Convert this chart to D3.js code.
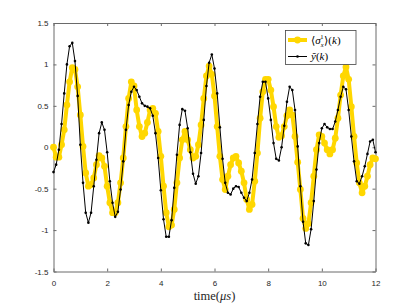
<!DOCTYPE html>
<html>
<head>
<meta charset="utf-8">
<script src="https://cdn.jsdelivr.net/npm/d3@7"></script>
<style>
  body { margin: 0; background: #fff; }
  text { font-family: "Liberation Sans", Arial, sans-serif; }
</style>
</head>
<body>
<script>
// sampling step of both series (microseconds)
var timeStep = 0.1;

// <sigma_x^1>(k), yellow thick line
var sigmaX = [
  0.00, -0.12, -0.12, 0.03, 0.21, 0.51, 0.79, 0.96, 0.94, 0.73,
  0.39, 0.01, -0.31, -0.47, -0.45, -0.37, -0.21, -0.10, -0.13, -0.23,
  -0.47, -0.67, -0.79, -0.79, -0.67, -0.43, -0.13, 0.25, 0.59, 0.79,
  0.74, 0.45, 0.25, 0.13, 0.17, 0.30, 0.45, 0.47, 0.41, 0.19,
  -0.11, -0.47, -0.79, -0.96, -0.94, -0.75, -0.43, -0.13, 0.09, 0.19,
  0.09, -0.03, -0.13, -0.11, 0.03, 0.27, 0.59, 0.86, 0.98, 0.88,
  0.62, 0.25, -0.11, -0.39, -0.51, -0.35, -0.21, -0.13, -0.11, -0.19,
  -0.29, -0.43, -0.63, -0.75, -0.69, -0.41, -0.07, 0.35, 0.67, 0.82,
  0.82, 0.69, 0.49, 0.25, 0.12, 0.14, 0.25, 0.38, 0.45, 0.39,
  0.13, -0.18, -0.51, -0.86, -0.98, -0.92, -0.67, -0.35, -0.03, 0.15,
  0.13, 0.05, -0.03, -0.08, -0.03, 0.11, 0.35, 0.63, 0.86, 0.97,
  0.82, 0.49, 0.13, -0.19, -0.43, -0.55, -0.47, -0.35, -0.21, -0.13,
  -0.14
];

// y~(k), black thin line
var yTilde = [
  -0.30, -0.21, -0.03, 0.28, 0.65, 1.00, 1.22, 1.26, 1.04, 0.62,
  0.03, -0.43, -0.79, -0.91, -0.79, -0.47, -0.15, 0.17, 0.30, 0.21,
  -0.06, -0.41, -0.67, -0.84, -0.78, -0.51, -0.17, 0.21, 0.51, 0.67,
  0.73, 0.69, 0.61, 0.53, 0.50, 0.49, 0.47, 0.38, 0.17, -0.13,
  -0.52, -0.87, -1.08, -1.08, -0.88, -0.49, -0.09, 0.27, 0.46, 0.44,
  0.23, -0.06, -0.32, -0.44, -0.35, -0.07, 0.33, 0.74, 1.02, 1.12,
  0.95, 0.65, 0.24, -0.14, -0.43, -0.55, -0.57, -0.50, -0.47, -0.48,
  -0.55, -0.61, -0.65, -0.55, -0.39, -0.07, 0.28, 0.61, 0.79, 0.79,
  0.59, 0.33, 0.05, -0.14, -0.16, 0.00, 0.26, 0.55, 0.73, 0.69,
  0.45, 0.01, -0.47, -0.90, -1.16, -1.18, -0.99, -0.65, -0.27, 0.05,
  0.23, 0.28, 0.24, 0.22, 0.22, 0.31, 0.45, 0.61, 0.73, 0.70,
  0.45, 0.13, -0.17, -0.41, -0.44, -0.35, -0.23, -0.08, 0.07, 0.09,
  -0.06
];

var xTicks = [0, 2, 4, 6, 8, 10, 12];
var yTicks = [-1.5, -1, -0.5, 0, 0.5, 1, 1.5];
var yTickLabels = ["-1.5", "-1", "-0.5", "0", "0.5", "1", "1.5"];

function drawChart(){

  var wx = 415,
      hy = 306;

  var left = 53.5, right = 375.5, top = 23, bottom = 271.5;

  var svg = d3.select("body")
      .append("svg")
      .attr("width", wx)
      .attr("height", hy);

  var x = d3.scaleLinear().domain([0, 12]).range([left, right]);
  var y = d3.scaleLinear().domain([-1.5, 1.5]).range([bottom, top]);

  var axisColor = "#6a6a6a";

  // plot area background
  svg.append("rect")
      .attr("x", left).attr("y", top)
      .attr("width", right - left).attr("height", bottom - top)
      .attr("fill", "#fff");

  // bottom axis with labels
  var gx = svg.append("g")
      .attr("transform", "translate(0," + bottom + ")")
      .call(d3.axisBottom(x).tickValues(xTicks).tickSizeInner(-3).tickSizeOuter(0).tickPadding(8.5)
        .tickFormat(d3.format("d")));

  // top axis, ticks only
  var gxt = svg.append("g")
      .attr("transform", "translate(0," + top + ")")
      .call(d3.axisTop(x).tickValues(xTicks).tickSizeInner(-3).tickSizeOuter(0).tickFormat(""));

  // left axis with labels
  var gy = svg.append("g")
      .attr("transform", "translate(" + left + ",0)")
      .call(d3.axisLeft(y).tickValues(yTicks).tickSizeInner(-3).tickSizeOuter(0).tickPadding(5)
        .tickFormat(function(d, i){ return yTickLabels[i]; }));

  // right axis, ticks only
  var gyr = svg.append("g")
      .attr("transform", "translate(" + right + ",0)")
      .call(d3.axisRight(y).tickValues(yTicks).tickSizeInner(-3).tickSizeOuter(0).tickFormat(""));

  [gx, gxt, gy, gyr].forEach(function(g){
    g.select(".domain").attr("stroke", axisColor).attr("stroke-width", 1);
    g.selectAll(".tick line").attr("stroke", axisColor).attr("stroke-width", 1);
    g.selectAll(".tick text")
      .attr("fill", "#262626")
      .style("font-size", "8px")
      .style("font-family", "'Liberation Sans', Arial, sans-serif");
  });

  var times = sigmaX.map(function(d, i){ return i * timeStep; });

  var line = d3.line()
      .x(function(d){ return x(d[0]); })
      .y(function(d){ return y(d[1]); });

  var yellow = "#FFD700";

  // yellow series
  var sData = times.map(function(t, i){ return [t, sigmaX[i]]; });
  svg.append("path")
      .datum(sData)
      .attr("d", line)
      .attr("fill", "none")
      .attr("stroke", yellow)
      .attr("stroke-width", 4)
      .attr("stroke-linejoin", "round");

  svg.append("g").selectAll("circle")
      .data(sData)
      .enter().append("circle")
      .attr("cx", function(d){ return x(d[0]); })
      .attr("cy", function(d){ return y(d[1]); })
      .attr("r", 3.4)
      .attr("fill", yellow);

  // black series
  var bData = times.map(function(t, i){ return [t, yTilde[i]]; });
  svg.append("path")
      .datum(bData)
      .attr("d", line)
      .attr("fill", "none")
      .attr("stroke", "#000")
      .attr("stroke-width", 1);

  svg.append("g").selectAll("circle")
      .data(bData)
      .enter().append("circle")
      .attr("cx", function(d){ return x(d[0]); })
      .attr("cy", function(d){ return y(d[1]); })
      .attr("r", 1.3)
      .attr("fill", "#000");

  // x label
  var xl = svg.append("text")
      .attr("x", (left + right) / 2)
      .attr("y", 300)
      .attr("text-anchor", "middle")
      .style("font-family", "'Liberation Serif', 'DejaVu Serif', serif")
      .style("font-size", "12.5px")
      .attr("fill", "#262626");
  xl.append("tspan").text("time(");
  xl.append("tspan").style("font-style", "italic").text("μs");
  xl.append("tspan").text(")");

  // legend
  var lg = svg.append("g");
  lg.append("rect")
      .attr("x", 285.5).attr("y", 30.5)
      .attr("width", 70.5).attr("height", 34)
      .attr("fill", "#fff")
      .attr("stroke", "#444")
      .attr("stroke-width", 0.8);

  lg.append("line")
      .attr("x1", 288).attr("x2", 307).attr("y1", 40).attr("y2", 40)
      .attr("stroke", yellow).attr("stroke-width", 4);
  lg.append("circle").attr("cx", 297.5).attr("cy", 40).attr("r", 3.4).attr("fill", yellow);

  lg.append("line")
      .attr("x1", 288).attr("x2", 307).attr("y1", 56.5).attr("y2", 56.5)
      .attr("stroke", "#000").attr("stroke-width", 1);
  lg.append("circle").attr("cx", 297.5).attr("cy", 56.5).attr("r", 1.3).attr("fill", "#000");

  var serif = "'Liberation Serif', 'DejaVu Serif', serif";

  var t1 = lg.append("text")
      .attr("x", 311).attr("y", 44)
      .style("font-family", serif)
      .style("font-size", "11px")
      .attr("fill", "#000");
  t1.append("tspan").text("\u27E8");
  t1.append("tspan").style("font-style", "italic").text("σ");
  t1.append("tspan").style("font-style", "italic").style("font-size", "6.5px").attr("dy", 3).text("x");
  t1.append("tspan").style("font-size", "6.5px").attr("dx", -3.3).attr("dy", -8).text("1");
  t1.append("tspan").attr("dx", 0.5).attr("dy", 5).text("\u27E9(");
  t1.append("tspan").style("font-style", "italic").text("k");
  t1.append("tspan").text(")");

  var t2 = lg.append("text")
      .attr("x", 311).attr("y", 60)
      .style("font-family", serif)
      .style("font-size", "11px")
      .attr("fill", "#000");
  t2.append("tspan").style("font-style", "italic").text("ỹ");
  t2.append("tspan").text("(");
  t2.append("tspan").style("font-style", "italic").text("k");
  t2.append("tspan").text(")");
}
drawChart();
</script>
</body>
</html>
